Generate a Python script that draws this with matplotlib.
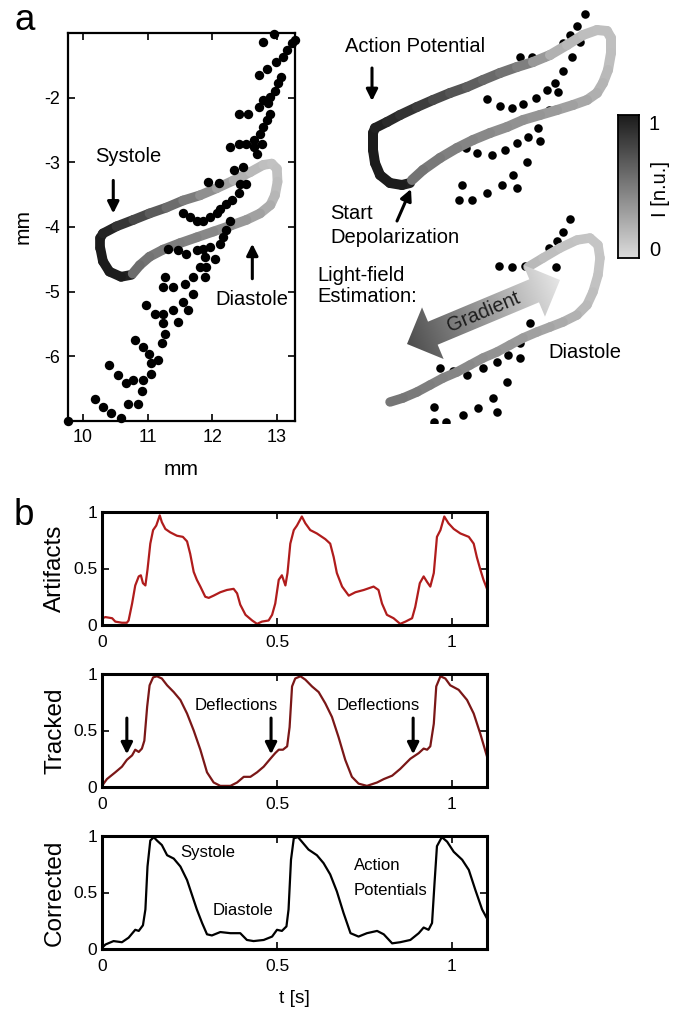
import numpy as np
import matplotlib
matplotlib.use('Agg')
import matplotlib.pyplot as plt
from matplotlib import font_manager
from matplotlib.collections import LineCollection
from matplotlib.colors import LinearSegmentedColormap
from matplotlib.patches import Polygon

# ---------------- panel a : tracked points (mm) ----------------
dots_x = [9.77, 10.18, 10.31, 10.44, 10.59, 10.41, 10.54, 10.67, 10.78, 10.70,
          10.85, 10.91, 10.93, 10.80, 10.93, 11.03, 11.06, 11.16, 11.06, 10.98,
          11.11, 11.24, 11.24, 11.27, 11.22, 11.24, 11.40, 11.27, 11.40, 11.47,
          11.55, 11.63, 11.71, 11.58, 11.71, 11.81, 11.89, 11.91, 11.89, 12.04,
          11.32, 11.47, 11.60, 11.76, 11.86, 11.97, 12.12, 12.17, 12.22, 12.28,
          11.55, 11.66, 11.76, 11.86, 11.97, 12.07, 12.12, 12.22, 12.30, 12.41,
          12.43, 12.53, 11.94, 12.10, 12.33, 12.48, 12.69, 12.64, 12.77, 12.28,
          12.41, 12.53, 12.64, 12.74, 12.79, 12.84, 12.90, 12.87, 12.41, 12.56,
          12.72, 12.79, 12.90, 12.97, 13.02, 13.07, 12.72, 12.84, 12.99, 13.10,
          13.16, 13.23, 13.28, 12.79, 12.96]
dots_y = [-7.00, -6.66, -6.78, -6.88, -6.95, -6.14, -6.29, -6.42, -6.37, -6.73,
          -6.73, -6.53, -6.37, -5.75, -5.86, -5.96, -6.11, -6.06, -6.27, -5.21,
          -5.34, -5.34, -5.49, -5.65, -5.80, -4.93, -4.93, -4.77, -5.29, -5.47,
          -5.16, -5.29, -5.03, -4.88, -4.77, -4.62, -4.77, -4.62, -4.46, -4.49,
          -4.34, -4.36, -4.41, -4.36, -4.34, -4.31, -4.26, -4.16, -4.05, -3.90,
          -3.79, -3.85, -3.90, -3.90, -3.85, -3.79, -3.72, -3.64, -3.59, -3.48,
          -3.33, -3.33, -3.30, -3.32, -3.12, -3.07, -2.87, -2.76, -2.71, -2.76,
          -2.71, -2.71, -2.66, -2.56, -2.45, -2.35, -2.25, -2.09, -2.25, -2.25,
          -2.14, -2.04, -1.99, -1.89, -1.78, -1.68, -1.65, -1.55, -1.45, -1.37,
          -1.27, -1.16, -1.11, -1.14, -1.01]

# light-field loop in mm, intensity 1 = dark
loop_x = [10.75, 10.59, 10.41, 10.31, 10.27, 10.27, 10.31, 10.52, 10.78, 11.03,
          11.29, 11.55, 11.81, 12.07, 12.33, 12.59, 12.79, 12.92, 13.00, 13.01,
          12.97, 12.90, 12.74, 12.53, 12.28, 12.02, 11.76, 11.50, 11.24, 11.03,
          10.88, 10.77]
loop_y = [-4.74, -4.77, -4.69, -4.53, -4.33, -4.17, -4.10, -3.99, -3.89, -3.79,
          -3.70, -3.59, -3.51, -3.40, -3.28, -3.15, -3.04, -3.02, -3.10, -3.30,
          -3.51, -3.66, -3.79, -3.89, -3.98, -4.07, -4.16, -4.25, -4.35, -4.46,
          -4.59, -4.72]
loop_i = [0.95, 1, 1, 1, 1, 1, 1, 0.92, 0.82, 0.72, 0.62, 0.55, 0.45, 0.35, 0.26,
          0.2, 0.16, 0.14, 0.14, 0.15, 0.18, 0.22, 0.28, 0.33, 0.38, 0.42, 0.45,
          0.48, 0.5, 0.53, 0.57, 0.6]

# zoomed views (view units)
zoom_loop_x = [410, 402, 390, 380, 375, 373, 373, 375, 387, 400, 417, 433, 450, 467,
               483, 500, 517, 533, 550, 567, 583, 597, 607, 611, 611, 608, 603, 597,
               587, 573, 557, 540, 523, 507, 490, 473, 457, 440, 423, 412]
zoom_loop_y = [183, 185, 183, 175, 163, 150, 133, 128, 122, 115, 107, 100, 93, 87,
               80, 73, 67, 62, 55, 45, 35, 30, 31, 38, 53, 70, 83, 93,
               100, 105, 110, 115, 120, 127, 133, 140, 148, 158, 170, 180]
zoom_loop_i = [0.95, 1, 1, 1, 1, 1, 1, 1, 0.95, 0.9, 0.85, 0.8, 0.72, 0.68, 0.62,
               0.58, 0.52, 0.45, 0.25, 0.2, 0.17, 0.15, 0.15, 0.15, 0.15, 0.17, 0.2,
               0.22, 0.25, 0.3, 0.33, 0.36, 0.38, 0.4, 0.42, 0.45, 0.47, 0.5, 0.53, 0.56]
zoom_dots_x = [585, 577, 570, 563, 580, 520, 532, 544, 572, 563, 555, 547, 558, 536,
               523, 512, 500, 487, 549, 538, 528, 517, 540, 505, 492, 477, 466, 527,
               513, 502, 487, 517, 462, 459, 472]
zoom_dots_y = [14, 26, 35, 43, 42, 57, 57, 57, 57, 71, 83, 90, 92, 98, 104, 108, 106,
               99, 110, 128, 137, 143, 141, 150, 155, 153, 148, 162, 175, 185, 193,
               188, 185, 200, 200]

est_loop_x = [528, 543, 560, 577, 590, 598, 600, 598, 593, 587, 577, 563, 550, 537,
              523, 510, 497, 483, 470, 457, 443, 430, 417, 403, 390]
est_loop_y = [267, 258, 248, 240, 238, 245, 258, 275, 292, 305, 315, 322, 327, 332,
              338, 345, 352, 358, 365, 372, 378, 385, 392, 398, 402]
est_loop_i = [0.2, 0.17, 0.15, 0.13, 0.12, 0.12, 0.12, 0.13, 0.15, 0.17, 0.2, 0.25,
              0.28, 0.3, 0.33, 0.35, 0.37, 0.4, 0.42, 0.44, 0.46, 0.48, 0.5, 0.52, 0.55]
est_dots_x = [570, 563, 557, 549, 499, 512, 525, 556, 530, 520, 508, 520, 497, 483,
              467, 453, 440, 507, 493, 478, 497, 463, 434, 434, 446]
est_dots_y = [219, 232, 241, 248, 266, 267, 266, 267, 323, 343, 355, 358, 362, 368,
              375, 371, 368, 382, 398, 408, 412, 415, 407, 422, 422]
grad_tail = (407, 344)
grad_head = (560, 280)

# ---------------- panel b : traces ----------------
art_t = [0, 0.01, 0.029, 0.038, 0.057, 0.071, 0.076, 0.086, 0.095, 0.105,
         0.111, 0.117, 0.124, 0.13, 0.138, 0.146, 0.155, 0.165, 0.171, 0.181,
         0.195, 0.214, 0.231, 0.243, 0.252, 0.262, 0.271, 0.281, 0.295, 0.305,
         0.319, 0.338, 0.357, 0.376, 0.386, 0.395, 0.41, 0.429, 0.443, 0.457,
         0.476, 0.486, 0.495, 0.505, 0.514, 0.524, 0.53, 0.538, 0.548, 0.557,
         0.571, 0.581, 0.595, 0.614, 0.638, 0.652, 0.662, 0.671, 0.686, 0.705,
         0.724, 0.748, 0.776, 0.79, 0.8, 0.814, 0.833, 0.852, 0.867, 0.886,
         0.895, 0.908, 0.919, 0.929, 0.938, 0.948, 0.957, 0.967, 0.978, 0.99,
         1.005, 1.024, 1.048, 1.062, 1.071, 1.081, 1.09, 1.1]
art_v = [0.06, 0.07, 0.06, 0.03, 0.02, 0.02, 0.04, 0.19, 0.35, 0.43,
         0.44, 0.37, 0.35, 0.49, 0.72, 0.84, 0.88, 0.97, 0.91, 0.85,
         0.82, 0.79, 0.78, 0.74, 0.63, 0.47, 0.40, 0.34, 0.25, 0.24,
         0.26, 0.29, 0.31, 0.32, 0.28, 0.18, 0.09, 0.04, 0.01, 0.03,
         0.04, 0.09, 0.19, 0.40, 0.44, 0.35, 0.46, 0.72, 0.84, 0.88,
         0.96, 0.90, 0.84, 0.81, 0.76, 0.72, 0.60, 0.46, 0.34, 0.26,
         0.29, 0.31, 0.34, 0.31, 0.19, 0.09, 0.06, 0.01, 0.03, 0.06,
         0.16, 0.37, 0.43, 0.38, 0.34, 0.46, 0.78, 0.84, 0.96, 0.90,
         0.85, 0.81, 0.78, 0.72, 0.60, 0.49, 0.40, 0.32]

trk_t = [0, 0.014, 0.038, 0.057, 0.071, 0.086, 0.095, 0.105, 0.114, 0.121,
         0.129, 0.136, 0.146, 0.157, 0.171, 0.186, 0.205, 0.224, 0.243, 0.262,
         0.281, 0.3, 0.319, 0.338, 0.367, 0.386, 0.405, 0.424, 0.443, 0.462,
         0.481, 0.495, 0.505, 0.517, 0.529, 0.536, 0.543, 0.552, 0.567, 0.581,
         0.6, 0.619, 0.638, 0.657, 0.676, 0.695, 0.714, 0.733, 0.757, 0.786,
         0.805, 0.829, 0.852, 0.881, 0.905, 0.919, 0.929, 0.938, 0.948, 0.955,
         0.967, 0.981, 0.995, 1.019, 1.043, 1.062, 1.081, 1.1]
trk_v = [0.01, 0.07, 0.13, 0.18, 0.24, 0.28, 0.33, 0.31, 0.34, 0.41,
         0.71, 0.90, 0.97, 0.98, 0.96, 0.90, 0.84, 0.77, 0.65, 0.50,
         0.33, 0.13, 0.04, 0.01, 0.01, 0.04, 0.09, 0.09, 0.13, 0.18,
         0.25, 0.30, 0.33, 0.33, 0.36, 0.53, 0.89, 0.96, 0.98, 0.95,
         0.89, 0.84, 0.74, 0.62, 0.44, 0.24, 0.09, 0.03, 0.01, 0.04,
         0.07, 0.10, 0.16, 0.25, 0.30, 0.34, 0.33, 0.36, 0.56, 0.89,
         0.98, 0.96, 0.90, 0.86, 0.77, 0.65, 0.47, 0.27]

cor_t = [0, 0.01, 0.033, 0.057, 0.076, 0.095, 0.105, 0.117, 0.124, 0.13,
         0.138, 0.148, 0.157, 0.171, 0.186, 0.205, 0.224, 0.243, 0.257, 0.271,
         0.286, 0.3, 0.314, 0.338, 0.367, 0.395, 0.414, 0.433, 0.462, 0.486,
         0.5, 0.514, 0.527, 0.533, 0.54, 0.548, 0.56, 0.571, 0.59, 0.614,
         0.633, 0.652, 0.671, 0.69, 0.71, 0.733, 0.757, 0.786, 0.805, 0.829,
         0.852, 0.881, 0.905, 0.919, 0.933, 0.943, 0.95, 0.957, 0.971, 0.986,
         1.005, 1.029, 1.048, 1.067, 1.086, 1.1]
cor_v = [0.01, 0.04, 0.07, 0.06, 0.10, 0.17, 0.16, 0.21, 0.35, 0.73,
         0.96, 0.99, 0.96, 0.92, 0.83, 0.80, 0.73, 0.61, 0.48, 0.35,
         0.23, 0.13, 0.12, 0.15, 0.14, 0.14, 0.08, 0.07, 0.08, 0.11,
         0.17, 0.16, 0.20, 0.35, 0.79, 0.98, 0.99, 0.95, 0.88, 0.83,
         0.76, 0.66, 0.51, 0.32, 0.14, 0.11, 0.14, 0.16, 0.13, 0.05,
         0.06, 0.08, 0.14, 0.19, 0.17, 0.23, 0.58, 0.91, 0.99, 0.95,
         0.86, 0.79, 0.70, 0.52, 0.35, 0.27]

deflection_t = [0.071, 0.483, 0.889]
trace_ticks = [0, 0.5, 1]
trace_ticklabels = ['0', '0.5', '1']

# ---------------- fonts ----------------
names = {f.name for f in font_manager.fontManager.ttflist}
if 'Liberation Sans Narrow' in names:
    NARROW, nk = 'Liberation Sans Narrow', 1.0
else:
    NARROW, nk = 'Liberation Sans', 0.86
plt.rcParams['font.family'] = ['Liberation Sans', 'DejaVu Sans']
plt.rcParams['axes.unicode_minus'] = False

FS_TICK = 15 * nk
FS_ANN = 14.5
FS_ANN_B = 14 * nk

W, H = 684, 1010
fig = plt.figure(figsize=(W / 100, H / 100), dpi=100)


def px_axes(x0, y0, x1, y1):
    return fig.add_axes([x0 / W, 1 - y1 / H, (x1 - x0) / W, (y1 - y0) / H])


gray_map = LinearSegmentedColormap.from_list('lf', ['#dcdcdc', '#1c1c1c'])
arrow_map = LinearSegmentedColormap.from_list('grad', ['#4d4d4d', '#e6e6e6'])


def draw_loop(ax, xs, ys, inten, lw, z=3):
    pts = np.column_stack([xs, ys])
    segs = np.stack([pts[:-1], pts[1:]], axis=1)
    c = 0.5 * (np.array(inten[:-1]) + np.array(inten[1:]))
    lc = LineCollection(segs, colors=gray_map(c), linewidths=lw,
                        capstyle='round', joinstyle='round', zorder=z)
    ax.add_collection(lc)


def arrow(ax, start, end, clip=False):
    ax.annotate('', xy=end, xytext=start,
                arrowprops=dict(arrowstyle='-|>', color='k', lw=2.2,
                                mutation_scale=17, shrinkA=0, shrinkB=0),
                annotation_clip=clip)


# ---------------- panel a, left ----------------
ax = px_axes(68, 33, 295, 421)
draw_loop(ax, loop_x, loop_y, loop_i, 7, z=2)
ax.scatter(dots_x, dots_y, s=46, c='k', linewidths=0, zorder=3, clip_on=False)
ax.set_xlim(9.77, 13.28)
ax.set_ylim(-7.0, -1.0)
ax.set_xticks([10, 11, 12, 13])
ax.set_yticks([-6, -5, -4, -3, -2])
ax.tick_params(direction='in', top=True, right=True, length=5, width=1.2,
               labelsize=FS_TICK, labelfontfamily=NARROW)
ax.tick_params(axis='x', pad=6)
ax.tick_params(axis='y', pad=6)
for s in ax.spines.values():
    s.set_linewidth(1.6)
ax.set_xlabel('mm', fontsize=17.5 * nk, family=NARROW)
ax.xaxis.label.set_va('center')
ax.xaxis.set_label_coords(0.5, -0.126)
ax.set_ylabel('mm', fontsize=17.5 * nk, family=NARROW)
ax.yaxis.label.set_va('center')
ax.yaxis.set_label_coords(-0.198, 0.5)
ax.text(10.70, -2.91, 'Systole', fontsize=FS_ANN, ha='center', va='center')
arrow(ax, (10.47, -3.28), (10.47, -3.79))
ax.text(12.61, -5.12, 'Diastole', fontsize=FS_ANN, ha='center', va='center')
arrow(ax, (12.62, -4.80), (12.62, -4.26))

# ---------------- panel a, zoomed views ----------------
axr = px_axes(300, 0, 684, 423)
axr.axis('off')
axr.scatter(zoom_dots_x, zoom_dots_y, s=38, c='k', linewidths=0, zorder=2)
draw_loop(axr, zoom_loop_x, zoom_loop_y, zoom_loop_i, 7.2)
axr.scatter(est_dots_x, est_dots_y, s=38, c='k', linewidths=0, zorder=2)
draw_loop(axr, est_loop_x, est_loop_y, est_loop_i, 6.8)

# double headed gradient arrow
p0, p1 = np.array(grad_tail, float), np.array(grad_head, float)
L = np.linalg.norm(p1 - p0)
u = (p1 - p0) / L
n = np.array([-u[1], u[0]])
hl, hw, sw = 28, 28, 12.5
verts = [p0, p0 + hl * u + hw * n, p0 + hl * u + sw * n, p1 - hl * u + sw * n,
         p1 - hl * u + hw * n, p1, p1 - hl * u - hw * n, p1 - hl * u - sw * n,
         p0 + hl * u - sw * n, p0 + hl * u - hw * n]
poly = Polygon(verts, closed=True, facecolor='none', edgecolor='none', zorder=4)
axr.add_patch(poly)
xs = np.linspace(p0[0] - 40, p1[0] + 40, 240)
ys = np.linspace(p1[1] - 40, p0[1] + 40, 240)
gx, gy = np.meshgrid(xs, ys)
proj = ((gx - p0[0]) * u[0] + (gy - p0[1]) * u[1]) / L
im = axr.imshow(proj, extent=[xs[0], xs[-1], ys[0], ys[-1]], origin='lower',
                cmap=arrow_map, vmin=0, vmax=1, aspect='auto', zorder=4,
                interpolation='bilinear')
im.set_clip_path(poly)
ang = np.degrees(np.arctan2(p0[1] - p1[1], p1[0] - p0[0]))
mid = 0.5 * (p0 + p1)
axr.text(mid[0], mid[1], 'Gradient', rotation=ang, rotation_mode='anchor',
         ha='center', va='center', fontsize=14.5, color='#1e1e1e', zorder=5)

axr.text(345, 46, 'Action Potential', fontsize=FS_ANN, ha='left', va='center')
arrow(axr, (372, 68), (372, 101))
axr.text(330, 214, 'Start', fontsize=FS_ANN, ha='left', va='center')
axr.text(330, 238, 'Depolarization', fontsize=FS_ANN, ha='left', va='center')
arrow(axr, (397, 221), (411, 189))
axr.text(317, 276, 'Light-field', fontsize=FS_ANN, ha='left', va='center')
axr.text(317, 297, 'Estimation:', fontsize=FS_ANN, ha='left', va='center')
axr.text(548, 353, 'Diastole', fontsize=FS_ANN, ha='left', va='center')
axr.set_xlim(300, 684)
axr.set_ylim(423, 0)

# colorbar
axc = px_axes(618, 115, 639, 258)
axc.imshow(np.linspace(1, 0, 200)[:, None], aspect='auto', cmap=gray_map,
           extent=[0, 1, 0, 1], vmin=0, vmax=1)
axc.set_xticks([])
axc.set_yticks([])
for s in axc.spines.values():
    s.set_linewidth(1.3)
fig.text(649 / W, 1 - 125 / H, '1', fontsize=14.5, ha='left', va='center')
fig.text(649 / W, 1 - 250 / H, '0', fontsize=14.5, ha='left', va='center')
fig.text(660 / W, 1 - 189 / H, 'I [n.u.]', fontsize=14.5, rotation=90,
         ha='center', va='center')

# ---------------- panel b ----------------
traces = [
    ((512, 625), art_t, art_v, '#b01c1c', 'Artifacts'),
    ((674, 787), trk_t, trk_v, '#7a1717', 'Tracked'),
    ((836, 949), cor_t, cor_v, '#000000', 'Corrected'),
]
axes_b = []
for (y0, y1), t, v, col, lab in traces:
    a = px_axes(102, y0, 487, y1)
    a.plot(t, v, color=col, lw=1.6)
    a.set_xlim(0, 1.1)
    a.set_ylim(0, 1)
    a.set_xticks(trace_ticks, trace_ticklabels)
    a.set_yticks(trace_ticks, trace_ticklabels)
    a.tick_params(direction='in', top=True, right=True, length=5, width=1.2,
                  labelsize=14.5 * nk, labelfontfamily=NARROW)
    a.tick_params(axis='x', pad=7)
    a.tick_params(axis='y', pad=3.5)
    for s in a.spines.values():
        s.set_linewidth(2.2)
    a.set_ylabel(lab, fontsize=17.5)
    a.yaxis.label.set_va('center')
    a.yaxis.set_label_coords(-0.122, 0.5)
    axes_b.append(a)

a_trk = axes_b[1]
for td in deflection_t:
    arrow(a_trk, (td, 0.61), (td, 0.29), clip=False)
a_trk.text(0.383, 0.717, 'Deflections', fontsize=FS_ANN_B, family=NARROW,
           ha='center', va='center')
a_trk.text(0.788, 0.717, 'Deflections', fontsize=FS_ANN_B, family=NARROW,
           ha='center', va='center')

a_cor = axes_b[2]
a_cor.text(0.223, 0.858, 'Systole', fontsize=FS_ANN_B, family=NARROW,
           ha='left', va='center')
a_cor.text(0.317, 0.345, 'Diastole', fontsize=FS_ANN_B, family=NARROW,
           ha='left', va='center')
a_cor.text(0.72, 0.743, 'Action', fontsize=FS_ANN_B, family=NARROW,
           ha='left', va='center')
a_cor.text(0.72, 0.522, 'Potentials', fontsize=FS_ANN_B, family=NARROW,
           ha='left', va='center')
a_cor.set_xlabel('t [s]', fontsize=16 * nk, family=NARROW)
a_cor.xaxis.label.set_va('center')
a_cor.xaxis.set_label_coords(0.5, -0.434)

fig.text(15 / W, 1 - 30 / H, 'a', fontsize=26.5, va='baseline', ha='left')
fig.text(14 / W, 1 - 525 / H, 'b', fontsize=26.5, va='baseline', ha='left')

fig.savefig('out.png', dpi=100)
